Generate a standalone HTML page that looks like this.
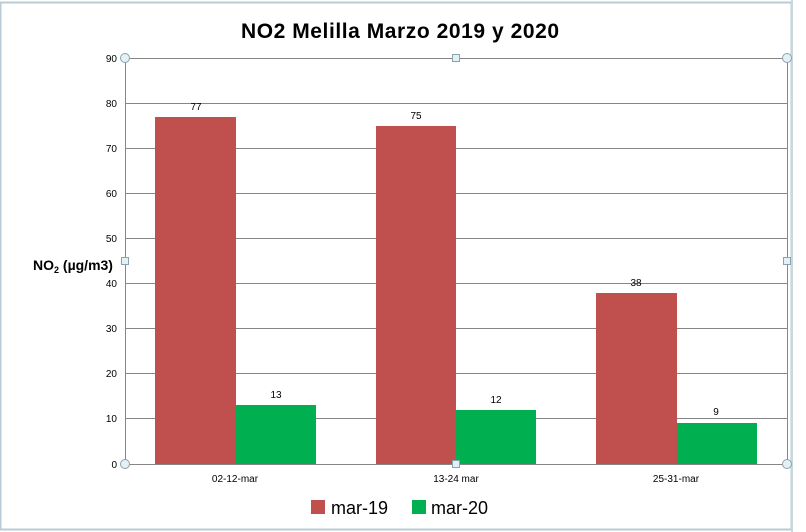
<!DOCTYPE html>
<html><head><style>body{margin:0;background:#fff}svg{display:block;font-family:"Liberation Sans",sans-serif}</style></head>
<body>
<svg width="806" height="532" viewBox="0 0 806 532">
<rect x="0" y="0" width="806" height="532" fill="#fff"/>
<rect x="0.5" y="2.5" width="791" height="527" fill="none" stroke="#b9cbd6" stroke-width="2"/>
<line x1="792" y1="0" x2="792" y2="532" stroke="#c8d6de" stroke-width="2"/>
<text x="400" y="38" text-anchor="middle" font-size="21" font-weight="bold" textLength="318">NO2  Melilla Marzo 2019 y 2020</text>
<g stroke="#868686" stroke-width="1">
<line x1="125" y1="58.5" x2="787" y2="58.5"/>
<line x1="125" y1="103.5" x2="787" y2="103.5"/>
<line x1="125" y1="148.5" x2="787" y2="148.5"/>
<line x1="125" y1="193.5" x2="787" y2="193.5"/>
<line x1="125" y1="238.5" x2="787" y2="238.5"/>
<line x1="125" y1="283.5" x2="787" y2="283.5"/>
<line x1="125" y1="328.5" x2="787" y2="328.5"/>
<line x1="125" y1="373.5" x2="787" y2="373.5"/>
<line x1="125" y1="418.5" x2="787" y2="418.5"/>
<line x1="125" y1="464.5" x2="787" y2="464.5"/>
<line x1="125.5" y1="58" x2="125.5" y2="464"/>
<line x1="787.5" y1="58" x2="787.5" y2="464"/>
</g>
<g fill="#c0504d">
<rect x="155" y="117" width="81" height="347"/>
<rect x="376" y="126" width="80" height="338"/>
<rect x="596" y="293" width="81" height="171"/>
</g>
<g fill="#00b050">
<rect x="236" y="405" width="80" height="59"/>
<rect x="456" y="410" width="80" height="54"/>
<rect x="677" y="423" width="80" height="41"/>
</g>
<g font-size="10" text-anchor="middle">
<text x="196" y="110">77</text><text x="276" y="398">13</text>
<text x="416" y="119">75</text><text x="496" y="403">12</text>
<text x="636" y="286">38</text><text x="716" y="415">9</text>
<text x="235" y="482">02-12-mar</text><text x="456" y="482">13-24 mar</text><text x="676" y="482">25-31-mar</text>
</g>
<g font-size="10" text-anchor="end">
<text x="117" y="62">90</text><text x="117" y="107">80</text><text x="117" y="152">70</text>
<text x="117" y="197">60</text><text x="117" y="242">50</text><text x="117" y="287">40</text>
<text x="117" y="332">30</text><text x="117" y="377">20</text><text x="117" y="422">10</text>
<text x="117" y="468">0</text>
</g>
<text x="33" y="270" font-size="14" font-weight="bold">NO<tspan font-size="9" dy="3">2</tspan><tspan dy="-3"> (µg/m3)</tspan></text>
<g fill="#e3f0f5" stroke="#8aa3b0">
<circle cx="125" cy="58" r="4.5"/><circle cx="787" cy="58" r="4.5"/>
<circle cx="125" cy="464" r="4.5"/><circle cx="787" cy="464" r="4.5"/>
<rect x="452.5" y="54.5" width="7" height="7"/><rect x="452.5" y="460.5" width="7" height="7"/>
<rect x="121.5" y="257.5" width="7" height="7"/><rect x="783.5" y="257.5" width="7" height="7"/>
</g>
<rect x="311" y="500" width="14" height="14" fill="#c0504d"/>
<text x="331" y="514" font-size="18">mar-19</text>
<rect x="412" y="500" width="14" height="14" fill="#00b050"/>
<text x="431" y="514" font-size="18">mar-20</text>
</svg>
</body></html>
